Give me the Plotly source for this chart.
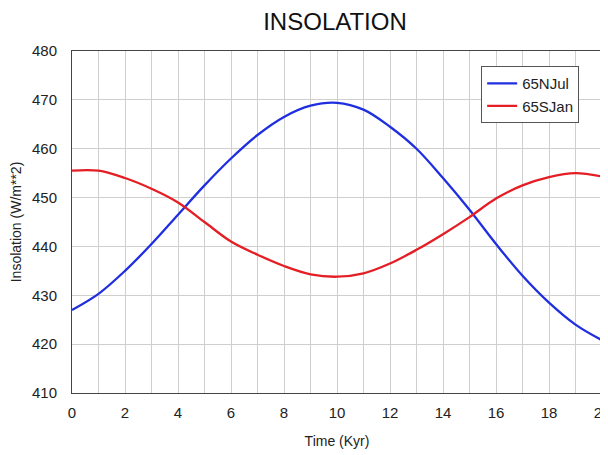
import plotly.graph_objects as go

time_kyr = list(range(0, 21))
nh_jul = [427.0, 430.3, 435.0, 440.5, 446.5, 452.5, 458.0, 462.8, 466.5, 468.8,
          469.4, 468.0, 464.5, 460.0, 454.0, 447.5, 440.5, 434.0, 428.5, 424.0, 420.8]
sh_jan = [455.5, 455.5, 454.0, 451.8, 449.0, 445.0, 441.0, 438.3, 436.0, 434.3,
          433.8, 434.5, 436.5, 439.3, 442.5, 446.0, 449.8, 452.5, 454.2, 455.0, 454.3]
x_ticks = list(range(0, 21, 2))
y_ticks = list(range(410, 481, 10))

fig = go.Figure()
fig.add_trace(go.Scatter(x=time_kyr, y=nh_jul, mode="lines", name="65NJul",
                         line=dict(color="#1f2fe0", width=2.3, shape="spline")))
fig.add_trace(go.Scatter(x=time_kyr, y=sh_jan, mode="lines", name="65SJan",
                         line=dict(color="#e41e24", width=2.3, shape="spline")))

font = "Liberation Sans, Arial, sans-serif"
W, H = 608, 455
fig.update_layout(
    width=W, height=H,
    margin=dict(l=63, r=6, t=43, b=70),
    paper_bgcolor="white", plot_bgcolor="white",
    font=dict(family=font, color="#222", size=13),
    title=dict(text="INSOLATION", x=(335 - 8) / W, xanchor="center", y=1 - (22 - 8) / H, yanchor="middle",
               font=dict(size=24, family=font, color="#111")),
    showlegend=True,
    legend=dict(x=0.772, y=0.956, xanchor="left", yanchor="top",
                bordercolor="#555", borderwidth=1, bgcolor="white",
                font=dict(size=15, family=font, color="#222"),
                tracegroupgap=0, entrywidth=72, entrywidthmode="pixels"),
    xaxis=dict(range=[0, 20], tickvals=x_ticks, ticktext=[str(v) for v in x_ticks],
               zeroline=False,
               showline=True, linecolor="#444", linewidth=1, mirror=True,
               ticks="", ticklabelstandoff=6, ticklabeloverflow="allow",
               tickfont=dict(size=15, family=font, color="#222"),
               title=dict(text="Time (Kyr)", font=dict(size=14, family=font, color="#222"), standoff=16)),
    yaxis=dict(range=[410, 480], tickvals=y_ticks, ticktext=[str(v) for v in y_ticks],
               showgrid=True, gridcolor="#cfcfcf", gridwidth=1, zeroline=False,
               showline=True, linecolor="#444", linewidth=1, mirror=True,
               ticks="", ticklabelstandoff=11,
               tickfont=dict(size=15, family=font, color="#222"),
               title=dict(text="Insolation (W/m**2)", font=dict(size=14, family=font, color="#222"), standoff=8)),
)
# minor vertical gridlines every 1 kyr
fig.update_xaxes(minor=dict(dtick=1, tick0=0, showgrid=True, gridcolor="#cfcfcf", gridwidth=1, ticks=""),
                 showgrid=True, gridcolor="#cfcfcf", gridwidth=1)

fig.write_html("out.html")
